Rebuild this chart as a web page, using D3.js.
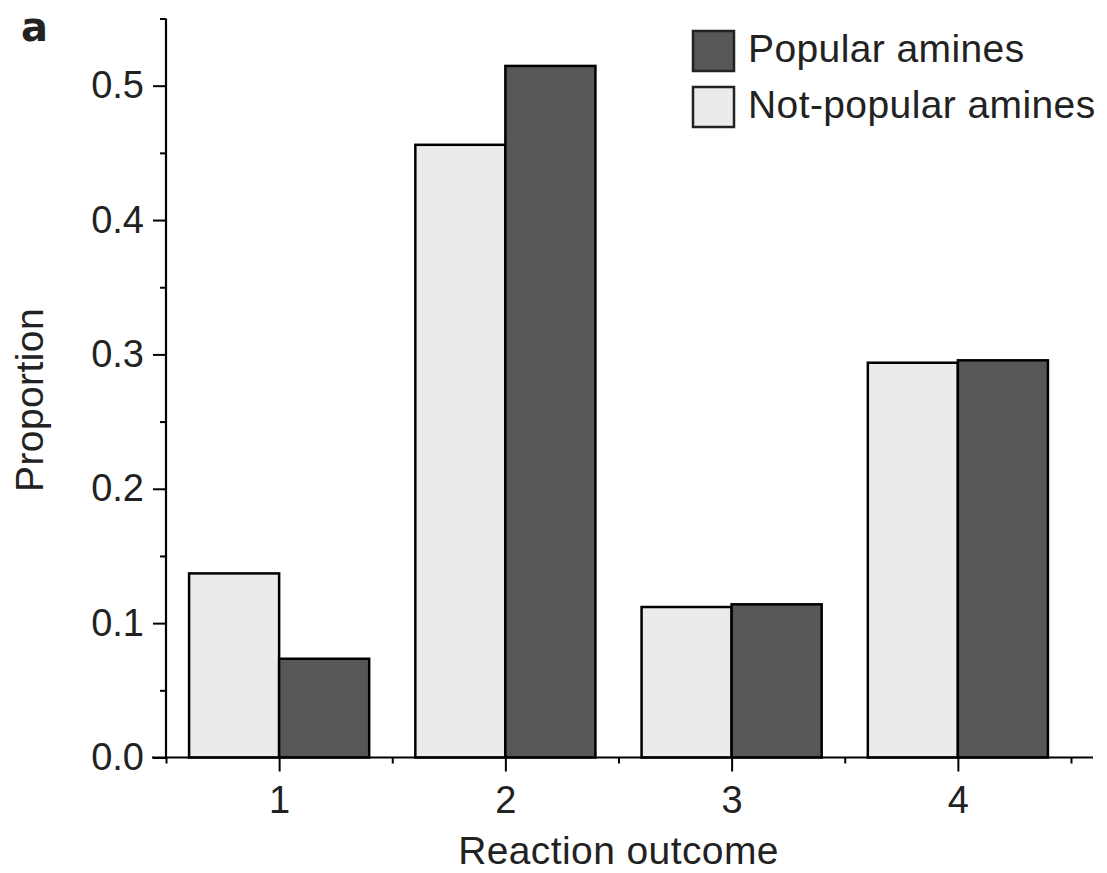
<!DOCTYPE html>
<html>
<head>
<meta charset="utf-8">
<script src="https://cdn.jsdelivr.net/npm/d3@7"></script>
<style>
  html, body { margin: 0; padding: 0; background: #fff; }
  svg { display: block; }
  text { font-family: "Liberation Sans", Arial, Helvetica, sans-serif; fill: #222; }
</style>
</head>
<body>
<svg id="chart" width="1107" height="873"></svg>
<script>
// ---- data ----
const categories = [1, 2, 3, 4];
const popular = [0.0735, 0.5147, 0.114, 0.2956];
const notPopular = [0.137, 0.456, 0.112, 0.2938];
const seriesNames = ["Popular amines", "Not-popular amines"];
const yMajorTicks = [0, 0.1, 0.2, 0.3, 0.4, 0.5];
const yMinorTicks = [0.05, 0.15, 0.25, 0.35, 0.45, 0.55];
const xMinorTicks = [0.5, 1.5, 2.5, 3.5, 4.5];

// ---- layout ----
const svg = d3.select("#chart");
const x = d3.scaleLinear().domain([0.5, 4.5]).range([166, 1071]);
const y = d3.scaleLinear().domain([0, 0.55]).range([757.5, 18.5]);
const step = x(2) - x(1);
const barW = step * 0.398;
const darkFill = "#575757", lightFill = "#ebebeb";
const fontSize = 38;
const titleSize = 39;

// bars
const g = svg.append("g");
categories.forEach((c, i) => {
  g.append("rect")
    .attr("x", x(c) - barW).attr("y", y(notPopular[i]))
    .attr("width", barW).attr("height", y(0) - y(notPopular[i]))
    .attr("fill", lightFill).attr("stroke", "#000").attr("stroke-width", 2.5);
  g.append("rect")
    .attr("x", x(c)).attr("y", y(popular[i]))
    .attr("width", barW).attr("height", y(0) - y(popular[i]))
    .attr("fill", darkFill).attr("stroke", "#000").attr("stroke-width", 2.5);
});

// y axis
const yAxisG = svg.append("g").attr("transform", `translate(${x(0.5)},0)`);
yAxisG.call(d3.axisLeft(y).tickValues(yMajorTicks).tickSize(13).tickPadding(9)
  .tickFormat(d3.format(".1f")));
yAxisG.select(".domain").remove();
yAxisG.selectAll(".tick line").attr("stroke", "#000").attr("stroke-width", 2);
yAxisG.selectAll(".tick text").attr("font-size", fontSize).attr("fill", "#222")
  .attr("font-family", '"Liberation Sans", Arial, sans-serif');
const yMinorG = svg.append("g").attr("transform", `translate(${x(0.5)},0)`);
yMinorG.call(d3.axisLeft(y).tickValues(yMinorTicks).tickSize(6).tickFormat(""));
yMinorG.select(".domain").remove();
yMinorG.selectAll(".tick line").attr("stroke", "#000").attr("stroke-width", 2);
svg.append("line")
  .attr("x1", x(0.5)).attr("x2", x(0.5))
  .attr("y1", y(0.55)).attr("y2", y(0))
  .attr("stroke", "#000").attr("stroke-width", 2.2);

// x axis
const xAxisG = svg.append("g").attr("transform", `translate(0,${y(0)})`);
xAxisG.call(d3.axisBottom(x).tickValues(categories).tickSize(14).tickPadding(15)
  .tickFormat(d3.format("d")));
xAxisG.select(".domain").remove();
xAxisG.selectAll(".tick line").attr("stroke", "#000").attr("stroke-width", 2);
xAxisG.selectAll(".tick text").attr("font-size", fontSize).attr("fill", "#222")
  .attr("font-family", '"Liberation Sans", Arial, sans-serif');
const xMinorG = svg.append("g").attr("transform", `translate(0,${y(0)})`);
xMinorG.call(d3.axisBottom(x).tickValues(xMinorTicks).tickSize(6).tickFormat(""));
xMinorG.select(".domain").remove();
xMinorG.selectAll(".tick line").attr("stroke", "#000").attr("stroke-width", 2);
svg.append("line")
  .attr("x1", x(0.5) - 14).attr("x2", x(4.5) + 22)
  .attr("y1", y(0)).attr("y2", y(0))
  .attr("stroke", "#000").attr("stroke-width", 2.2);

// axis titles
svg.append("text")
  .attr("transform", `translate(43,${(y(0) + y(0.55)) / 2 + 12}) rotate(-90)`)
  .attr("text-anchor", "middle").attr("font-size", titleSize)
  .attr("letter-spacing", 0.4)
  .text("Proportion");
svg.append("text")
  .attr("x", x(2.5)).attr("y", 864)
  .attr("text-anchor", "middle").attr("font-size", titleSize)
  .attr("letter-spacing", 0.4)
  .text("Reaction outcome");

// panel label
svg.append("text")
  .attr("x", 21).attr("y", 41)
  .style("font-family", '"DejaVu Sans", sans-serif')
  .style("font-weight", "bold")
  .attr("font-size", 40).attr("fill", "#111")
  .text("a");

// legend
const legend = svg.append("g");
const legendFills = [darkFill, lightFill];
const legendY = [31, 87];
seriesNames.forEach((name, i) => {
  legend.append("rect")
    .attr("x", 693).attr("y", legendY[i])
    .attr("width", 41).attr("height", 40)
    .attr("fill", legendFills[i]).attr("stroke", "#222").attr("stroke-width", 2.5);
  legend.append("text")
    .attr("x", 748).attr("y", legendY[i] + 31)
    .attr("font-size", titleSize)
    .attr("letter-spacing", 0.4)
    .text(name);
});
</script>
</body>
</html>
